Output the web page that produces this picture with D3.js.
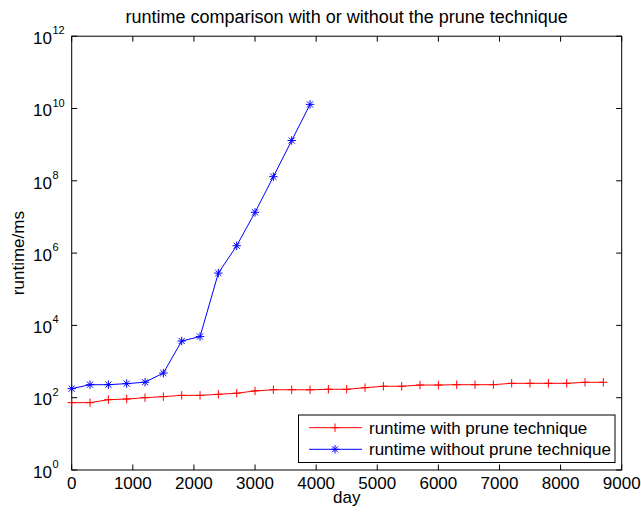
<!DOCTYPE html>
<html><head><meta charset="utf-8">
<script src="https://cdn.jsdelivr.net/npm/d3@7"></script>
<style>body{margin:0;background:#fff}svg{font-family:"Liberation Sans",Arial,sans-serif}</style>
</head><body><svg id="c" width="641" height="515"></svg>
<script>
const daysPrune = [0,300,600,900,1200,1500,1800,2100,2400,2700,3000,3300,3600,3900,4200,4500,4800,5100,5400,5700,6000,6300,6600,6900,7200,7500,7800,8100,8400,8700];
const runtimePrune = [73,73,88,92,100,107,116,116,124,133,154,166,166,165,171,171,189,207,207,224,224,229,229,229,250,250,250,250,267,267];
const daysNoPrune = [0,300,600,900,1200,1500,1800,2100,2400,2700,3000,3300,3600,3900];
const runtimeNoPrune = [178,229,229,245,268,480,3700,4900,2.8e5,1.6e6,1.34e7,1.3e8,1.3e9,1.3e10];
const xTicks = [0,1000,2000,3000,4000,5000,6000,7000,8000,9000];
const yExps = [0,2,4,6,8,10,12];
const seriesNames = ["runtime with prune technique","runtime without prune technique"];
const titleText = "runtime comparison with or without the prune technique";

const svg = d3.select("#c");
const L=71.7, R=621.7, T=36.2, B=470;
const x = d3.scaleLinear().domain([0,9000]).range([L,R]);
const y = d3.scaleLog().domain([1,1e12]).range([B,T]);

svg.append("rect").attr("x",L).attr("y",T).attr("width",R-L).attr("height",B-T)
  .attr("fill","none").attr("stroke","#000").attr("stroke-width",1);

const tl=5.5;
xTicks.forEach(t=>{
  svg.append("line").attr("x1",x(t)).attr("x2",x(t)).attr("y1",B).attr("y2",B-tl).attr("stroke","#000");
  svg.append("line").attr("x1",x(t)).attr("x2",x(t)).attr("y1",T).attr("y2",T+tl).attr("stroke","#000");
  svg.append("text").attr("x",x(t)).attr("y",489).attr("text-anchor","middle").attr("font-size",17).text(t);
});
yExps.forEach(e=>{
  const v=Math.pow(10,e);
  svg.append("line").attr("x1",L).attr("x2",L+tl).attr("y1",y(v)).attr("y2",y(v)).attr("stroke","#000");
  svg.append("line").attr("x1",R).attr("x2",R-tl).attr("y1",y(v)).attr("y2",y(v)).attr("stroke","#000");
  svg.append("text").attr("x",52).attr("y",y(v)+7.7).attr("text-anchor","end").attr("font-size",17).text("10");
  svg.append("text").attr("x",52.5).attr("y",y(v)-2).attr("font-size",11).text(e);
});

svg.append("text").attr("x",(L+R)/2).attr("y",23).attr("text-anchor","middle").attr("font-size",18).text(titleText);
svg.append("text").attr("x",(L+R)/2).attr("y",503).attr("text-anchor","middle").attr("font-size",17).text("day");
svg.append("text").attr("transform",`translate(24,${(T+B)/2}) rotate(-90)`).attr("text-anchor","middle").attr("font-size",17).text("runtime/ms");

const line = d3.line().x(d=>x(d[0])).y(d=>y(d[1]));
const dP = daysPrune.map((d,i)=>[d,runtimePrune[i]]);
const dN = daysNoPrune.map((d,i)=>[d,runtimeNoPrune[i]]);

function plus(g,cx,cy,col,s){
  g.append("path").attr("d",`M${cx-s},${cy}H${cx+s}M${cx},${cy-s}V${cy+s}`).attr("stroke",col).attr("stroke-width",1).attr("fill","none");
}
function star(g,cx,cy,col,s){
  const d=s*0.72;
  g.append("path").attr("d",`M${cx-s},${cy}H${cx+s}M${cx},${cy-s}V${cy+s}M${cx-d},${cy-d}L${cx+d},${cy+d}M${cx-d},${cy+d}L${cx+d},${cy-d}`).attr("stroke",col).attr("stroke-width",1).attr("fill","none");
}

svg.append("path").datum(dP).attr("d",line).attr("fill","none").attr("stroke","#ff0000").attr("stroke-width",1);
const gP=svg.append("g");
dP.forEach(d=>plus(gP,x(d[0]),y(d[1]),"#ff0000",4.2));
svg.append("path").datum(dN).attr("d",line).attr("fill","none").attr("stroke","#0000ff").attr("stroke-width",1);
const gN=svg.append("g");
dN.forEach(d=>star(gN,x(d[0]),y(d[1]),"#0000ff",4.2));

const lx=298.5, ly=415, lw=316.5, lh=47.5;
svg.append("rect").attr("x",lx).attr("y",ly).attr("width",lw).attr("height",lh).attr("fill","#fff").attr("stroke","#000").attr("stroke-width",1);
const rows=[{c:"#ff0000",m:plus,y:427.7},{c:"#0000ff",m:star,y:449.3}];
rows.forEach((r,i)=>{
  const yy=r.y;
  svg.append("line").attr("x1",309).attr("x2",362).attr("y1",yy).attr("y2",yy).attr("stroke",r.c);
  r.m(svg,335,yy,r.c,4.2);
  svg.append("text").attr("x",369).attr("y",yy+6).attr("font-size",17).text(seriesNames[i]);
});
</script></body></html>
